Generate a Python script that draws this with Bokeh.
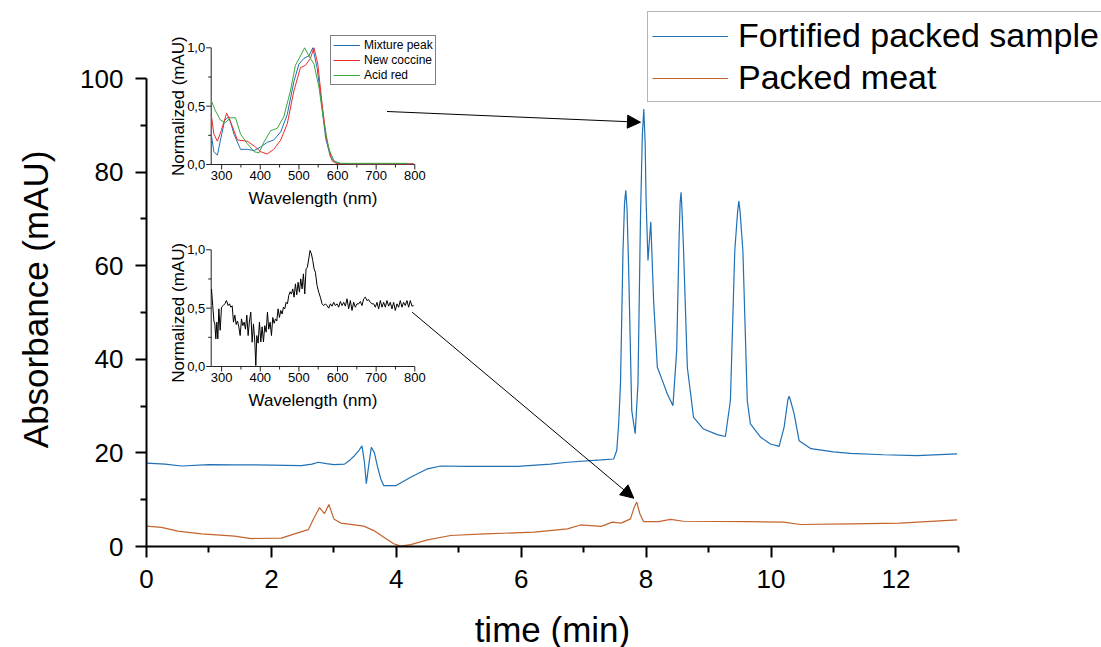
import numpy as np
from bokeh.plotting import figure
from bokeh.models import (Range1d, FixedTicker, Legend, LegendItem,
                          Arrow, NormalHead)
from bokeh.embed import file_html
from bokeh.resources import INLINE
from bokeh.core.properties import value

# ---------------- data ----------------
# main chromatograms (time in min, absorbance in mAU)
t_fortified = [0, 0.3, 0.56, 1.0, 1.41, 2.0, 2.48, 2.65, 2.75, 2.88, 3.0, 3.17, 3.26,
               3.33, 3.40, 3.45, 3.49, 3.52, 3.56, 3.6, 3.65, 3.7, 3.75, 3.8, 3.99,
               4.23, 4.5, 4.71, 5.14, 5.94, 6.47, 6.74, 7.28, 7.48, 7.53, 7.56, 7.59,
               7.63, 7.655, 7.675, 7.695, 7.72, 7.77, 7.825, 7.87, 7.91, 7.94, 7.963,
               7.985, 8.0, 8.03, 8.075, 8.12, 8.18, 8.26, 8.34, 8.43, 8.49, 8.53, 8.545,
               8.56, 8.575, 8.6, 8.66, 8.76, 8.92, 9.14, 9.27, 9.35, 9.42, 9.465, 9.485,
               9.505, 9.55, 9.62, 9.67, 9.83, 9.99, 10.13, 10.21, 10.27, 10.29, 10.31,
               10.37, 10.45, 10.64, 11.0, 11.27, 11.8, 12.34, 12.98]
a_fortified = [17.8, 17.6, 17.2, 17.5, 17.45, 17.4, 17.3, 17.6, 18.0, 17.7, 17.5, 17.6, 18.5,
               19.4, 20.5, 21.5, 18.0, 13.4, 17.5, 21.2, 20.0, 17.0, 14.5, 13.0, 13.0,
               14.8, 16.6, 17.2, 17.1, 17.1, 17.6, 18.0, 18.5, 18.7, 20.5, 26.0, 34.8,
               63.2, 73.5, 76.1, 72.0, 59.7, 29.1, 24.1, 34.8, 70.4, 88.0, 93.5,
               86.0, 73.9, 61.1, 69.4, 52.6, 38.3, 35.5, 32.6, 30.1, 41.9, 66.8, 73.5,
               75.7, 72.0, 63.2, 38.3, 27.6, 25.1, 23.9, 23.5, 31.2, 63.2, 71.5, 73.8,
               71.5, 63.2, 31.2, 26.2, 23.4, 21.9, 21.4, 25.5, 31.3, 32.1, 31.3,
               28.4, 22.6, 20.9, 20.2, 19.9, 19.6, 19.4, 19.8]
t_meat = [0, 0.24, 0.5, 0.88, 1.41, 1.68, 2.16, 2.37, 2.59, 2.69, 2.77, 2.85, 2.92, 3.0,
          3.11, 3.48, 3.64, 3.8, 3.96, 4.07, 4.23, 4.5, 4.87, 5.41, 6.21, 6.74, 6.95,
          7.28, 7.46, 7.6, 7.75, 7.81, 7.85, 7.9, 7.96, 8.2, 8.39, 8.6, 9.67, 10.2,
          10.47, 11.27, 12.07, 12.98]
a_meat = [4.35, 4.1, 3.3, 2.7, 2.2, 1.7, 1.8, 2.7, 3.6, 6.3, 8.3, 7.0, 9.0, 5.9,
          5.0, 4.35, 3.4, 2.0, 0.6, 0.07, 0.4, 1.4, 2.35, 2.7, 3.06, 3.77, 4.6,
          4.3, 5.2, 5.0, 5.9, 8.4, 9.5, 7.0, 5.3, 5.3, 5.8, 5.4, 5.3, 5.2,
          4.7, 4.85, 5.0, 5.7]

main_x_ticks = [0, 2, 4, 6, 8, 10, 12]
main_x_minor = [1, 3, 5, 7, 9, 11, 13]
main_y_ticks = [0, 20, 40, 60, 80, 100]
main_y_minor = [10, 30, 50, 70, 90]

# inset 1 spectra (wavelength nm, normalized)
w_mix = [273, 280, 289, 297, 308, 319, 332, 349, 366, 384, 401, 418, 435, 453, 470,
         487, 500, 513, 526, 536, 547, 558, 569, 582, 599, 634, 700, 797]
v_mix = [0.26, 0.11, 0.08, 0.21, 0.38, 0.41, 0.26, 0.13, 0.13, 0.12, 0.15, 0.19, 0.21,
         0.28, 0.43, 0.71, 0.86, 0.91, 0.93, 1.0, 0.83, 0.55, 0.23, 0.06, 0.01, 0.006,
         0.005, 0.006]
w_coccine = [273, 280, 289, 299, 313, 325, 341, 366, 384, 401, 418, 435, 453, 470, 487,
             504, 517, 530, 539, 549, 560, 572, 586, 599, 700, 797]
v_coccine = [0.43, 0.26, 0.2, 0.29, 0.44, 0.35, 0.21, 0.2, 0.16, 0.11, 0.09, 0.13, 0.21,
             0.35, 0.63, 0.83, 0.85, 0.91, 1.0, 0.86, 0.52, 0.21, 0.03, 0.006, 0.005, 0.005]
w_acid = [273, 284, 297, 310, 323, 336, 349, 366, 384, 397, 409, 427, 444, 461, 478,
          491, 504, 515, 526, 539, 552, 565, 578, 591, 608, 700, 780]
v_acid = [0.55, 0.46, 0.38, 0.36, 0.4, 0.4, 0.26, 0.18, 0.11, 0.1, 0.19, 0.29, 0.31,
          0.41, 0.63, 0.85, 0.93, 1.0, 0.93, 0.86, 0.66, 0.35, 0.13, 0.03, 0.01, 0.01, 0.01]

# inset 2 spectrum (packed meat peak)
w_meat = [273.8, 277, 280, 282.4, 285, 287.6, 290.2, 292.8, 296.2, 299.7, 304, 308.3,
          312.6, 316.9, 320.4, 323.8, 327.3, 330.7, 334.2, 337.6, 341, 344.5, 348,
          351.4, 354.8, 358.3, 361.7, 365.2, 368.6, 372, 375.5, 379, 382.4, 385.9,
          388.5, 391, 394.5, 397.9, 401.4, 404.8, 408.3, 411.7, 415.2, 418.6, 422,
          425.5, 429, 432.4, 435.9, 439.3, 442.8, 446.2, 449.7, 453.1, 456.6, 460,
          463.5, 466.9, 470.4, 473.8, 477.2, 480.7, 484.1, 487.6, 491, 494.5, 497.9,
          501.4, 504.8, 508.3, 511.7, 515.2, 518.6, 522, 525.5, 528.9, 532.4, 535.9,
          539.3, 542.7, 547, 551.3, 555.6, 560, 564.2, 568.6, 572.9, 577.2, 581.5,
          585.8, 590.1, 594.4, 598.7, 603, 607.3, 611.7, 616, 620.3, 624.6, 628.9,
          633.2, 637.5, 641.8, 646.1, 650.4, 654.8, 659.1, 663.4, 667.7, 672, 676.3,
          680.6, 684.9, 689.2, 693.5, 697.9, 702.2, 706.5, 710.8, 715.1, 719.4, 723.7,
          728, 732.3, 736.6, 741, 745.3, 749.6, 753.9, 758.2, 762.5, 766.8, 771.1,
          775.4, 779.7, 784.1, 788.4, 792.7, 797]
v_meat = [0.665, 0.52, 0.39, 0.365, 0.237, 0.38, 0.237, 0.494, 0.31, 0.508, 0.522, 0.537,
          0.565, 0.522, 0.537, 0.508, 0.52, 0.38, 0.44, 0.36, 0.39, 0.34, 0.265,
          0.408, 0.35, 0.38, 0.32, 0.44, 0.265, 0.39, 0.465, 0.208, 0.365, 0.21,
          0.008, 0.265, 0.2, 0.38, 0.21, 0.34, 0.21, 0.35, 0.294, 0.465, 0.32,
          0.38, 0.265, 0.42, 0.37, 0.408, 0.39, 0.494, 0.42, 0.48, 0.45, 0.508,
          0.494, 0.55, 0.537, 0.608, 0.64, 0.62, 0.665, 0.594, 0.708, 0.614, 0.722,
          0.637, 0.751, 0.665, 0.794, 0.622, 0.837, 0.851, 0.922, 0.994, 0.965, 0.908,
          0.837, 0.808, 0.694, 0.637, 0.594, 0.537, 0.522, 0.537, 0.522, 0.5, 0.537,
          0.517, 0.55, 0.522, 0.537, 0.508, 0.557, 0.522, 0.55, 0.517, 0.58, 0.494,
          0.565, 0.48, 0.55, 0.508, 0.537, 0.537, 0.557, 0.522, 0.58, 0.594, 0.565,
          0.573, 0.55, 0.537, 0.537, 0.508, 0.55, 0.494, 0.565, 0.508, 0.55, 0.508,
          0.565, 0.517, 0.55, 0.494, 0.55, 0.48, 0.537, 0.508, 0.565, 0.508, 0.55,
          0.522, 0.565, 0.508, 0.565, 0.517, 0.522]

inset_w_ticks = [300, 400, 500, 600, 700, 800]
inset_w_minor = [350, 450, 550, 650, 750]
inset_v_ticks = [0.0, 0.5, 1.0]
inset_v_labels = ["0,0", "0,5", "1,0"]
inset_v_minor = [0.25, 0.75]

# ---------------- layout ----------------
FONT = "Liberation Sans"
W, H = 1101, 647
OX, OY = 146, 546     # screen position of the data origin (0, 0)
PX_X = 62.45          # screen px per minute
PX_Y = 4.68           # screen px per mAU

C_BLUE = "#1f70b5"
C_ORANGE = "#c3642c"
C_RED = "#ee2b2b"
C_GREEN = "#3aa83a"

p = figure(width=W, height=H,
           x_range=Range1d(-OX / PX_X, (W - OX) / PX_X),
           y_range=Range1d(-(H - OY) / PX_Y, OY / PX_Y),
           output_backend="svg", toolbar_location=None,
           min_border=0)
p.outline_line_color = None
p.grid.visible = False
p.background_fill_color = "white"

for ax, ticks, minor, bounds in ((p.xaxis[0], main_x_ticks, main_x_minor, (0, 13)),
                                 (p.yaxis[0], main_y_ticks, main_y_minor, (0, 100))):
    ax.fixed_location = 0
    ax.ticker = FixedTicker(ticks=ticks, minor_ticks=minor)
    ax.bounds = bounds
    ax.axis_line_width = 2
    ax.major_tick_line_width = 2
    ax.minor_tick_line_width = 2
    ax.major_tick_out = 11
    ax.major_tick_in = 0
    ax.minor_tick_out = 6
    ax.minor_tick_in = 0
    ax.major_label_text_font = FONT
    ax.major_label_text_font_size = "26px"
    ax.major_label_text_color = "black"
p.xaxis[0].major_label_standoff = 12
p.yaxis[0].major_label_standoff = 12

# axis titles (inside the frame, which spans the whole canvas)
p.text([6.5], [-82.5 / PX_Y], text=["time (min)"], text_align="center",
       text_baseline="middle", text_font=value(FONT), text_font_size="35px",
       text_color="black")
p.text([-111 / PX_X], [52.8], text=["Absorbance (mAU)"], angle=np.pi / 2,
       text_align="center", text_baseline="middle", text_font=value(FONT),
       text_font_size="35px", text_color="black")

# main traces
r_fort = p.line(t_fortified, a_fortified, line_color=C_BLUE, line_width=1.2)
r_meat = p.line(t_meat, a_meat, line_color=C_ORANGE, line_width=1.2)

main_legend = Legend(items=[LegendItem(label="Fortified packed sample", renderers=[r_fort]),
                            LegendItem(label="Packed meat", renderers=[r_meat])],
                     location=(647, 545), label_text_font=FONT, label_text_font_size="34px",
                     label_text_color="black",
                     glyph_width=76, glyph_height=30, label_standoff=10, padding=4, spacing=3,
                     margin=0, border_line_color="#6b6b6b", border_line_width=1.5,
                     background_fill_alpha=1.0)
p.add_layout(main_legend)

# ---------------- insets ----------------
W0, W1 = 273, 800
BOX_X = (1.036, 4.296)          # inset x-extent in main data units
BOX1_Y = (81.62, 106.56)        # inset 1 y-extent
BOX2_Y = (38.46, 63.40)         # inset 2 y-extent


def tx(w):
    w = np.asarray(w, dtype=float)
    return BOX_X[0] + (w - W0) / (W1 - W0) * (BOX_X[1] - BOX_X[0])


def ty(v, box):
    v = np.asarray(v, dtype=float)
    return box[0] + v * (box[1] - box[0])


def draw_inset_axes(box, ylabel_center):
    ax_col = "#222222"
    x0 = float(tx(W0))
    y0 = float(ty(0, box))
    # axis lines
    p.line([x0, x0], [y0, float(ty(1, box))], line_color=ax_col, line_width=1)
    p.line([x0, float(tx(W1))], [y0, y0], line_color=ax_col, line_width=1)
    # x ticks
    xt = tx(inset_w_ticks)
    p.segment(xt, [y0] * len(xt), xt, [y0 - 5 / PX_Y] * len(xt), line_color=ax_col, line_width=1)
    xm = tx(inset_w_minor)
    p.segment(xm, [y0] * len(xm), xm, [y0 - 3 / PX_Y] * len(xm), line_color=ax_col, line_width=1)
    # y ticks
    yt = ty(inset_v_ticks, box)
    p.segment([x0] * len(yt), yt, [x0 - 5 / PX_X] * len(yt), yt, line_color=ax_col, line_width=1)
    ym = ty(inset_v_minor, box)
    p.segment([x0] * len(ym), ym, [x0 - 3 / PX_X] * len(ym), ym, line_color=ax_col, line_width=1)
    # tick labels
    p.text(xt, [y0 - 6 / PX_Y] * len(xt), text=[str(w) for w in inset_w_ticks],
           text_font=value(FONT), text_font_size="13px", text_align="center",
           text_baseline="top", text_color="black")
    p.text([x0 - 6 / PX_X] * len(yt), yt, text=inset_v_labels,
           text_font=value(FONT), text_font_size="13px", text_align="right",
           text_baseline="middle", text_color="black")
    # axis titles
    p.text([float(tx((W0 + W1) / 2))], [y0 - 34 / PX_Y], text=["Wavelength (nm)"],
           text_font=value(FONT), text_font_size="17px", text_align="center",
           text_baseline="middle", text_color="black")
    p.text([x0 - 33 / PX_X], [float(ty(ylabel_center, box))], text=["Normalized (mAU)"],
           angle=np.pi / 2, text_font=value(FONT), text_font_size="17px",
           text_align="center", text_baseline="middle", text_color="black")


draw_inset_axes(BOX1_Y, 0.5)
draw_inset_axes(BOX2_Y, 0.46)

r_mix = p.line(tx(w_mix), ty(v_mix, BOX1_Y), line_color=C_BLUE, line_width=1)
r_coc = p.line(tx(w_coccine), ty(v_coccine, BOX1_Y), line_color=C_RED, line_width=1)
r_acid = p.line(tx(w_acid), ty(v_acid, BOX1_Y), line_color=C_GREEN, line_width=1)
p.line(tx(w_meat), ty(v_meat, BOX2_Y), line_color="black", line_width=1)

inset_legend = Legend(items=[LegendItem(label="Mixture peak", renderers=[r_mix]),
                             LegendItem(label="New coccine", renderers=[r_coc]),
                             LegendItem(label="Acid red", renderers=[r_acid])],
                      location=(330, 562), label_text_font=FONT, label_text_font_size="12px",
                      label_text_color="black",
                      glyph_width=27, glyph_height=12, label_height=12, label_standoff=4,
                      padding=2, spacing=1, margin=0, border_line_color="black",
                      border_line_width=1, background_fill_alpha=1.0)
p.add_layout(inset_legend)

# arrows linking spectra to peaks
p.add_layout(Arrow(end=NormalHead(size=13, fill_color="black", line_color="black"),
                   x_start=3.851, y_start=92.95, x_end=7.910, y_end=90.66,
                   line_color="black", line_width=1))
p.add_layout(Arrow(end=NormalHead(size=13, fill_color="black", line_color="black"),
                   x_start=4.255, y_start=50.06, x_end=7.803, y_end=10.32,
                   line_color="black", line_width=1))

open("out.html", "w").write(file_html(p, INLINE))
